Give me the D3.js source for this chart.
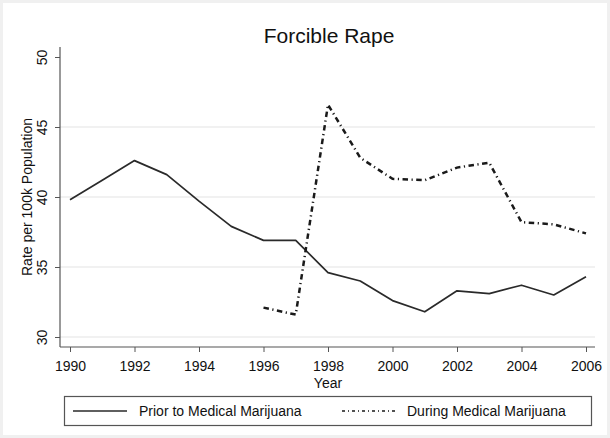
<!DOCTYPE html>
<html>
<head>
<meta charset="utf-8">
<script src="https://cdn.jsdelivr.net/npm/d3@7"></script>
<style>
  body { margin: 0; background: #fff; }
  svg { font-family: "Liberation Sans", Arial, Helvetica, sans-serif; }
</style>
</head>
<body>
<script>
// data
const years = [1990, 1991, 1992, 1993, 1994, 1995, 1996, 1997, 1998, 1999, 2000, 2001, 2002, 2003, 2004, 2005, 2006]
const prior = [39.8, 41.2, 42.6, 41.6, 39.7, 37.9, 36.9, 36.9, 34.6, 34.0, 32.6, 31.8, 33.3, 33.1, 33.7, 33.0, 34.3]
const duringYears = [1996, 1997, 1998, 1999, 2000, 2001, 2002, 2003, 2004, 2005, 2006]
const during = [32.1, 31.6, 46.6, 42.8, 41.3, 41.2, 42.1, 42.45, 38.2, 38.05, 37.4]
const xTicks = [1990, 1992, 1994, 1996, 1998, 2000, 2002, 2004, 2006]
const yTicks = [30, 35, 40, 45, 50]
const seriesNames = ["Prior to Medical Marijuana", "During Medical Marijuana"]

const width = 610, height = 438
const svg = d3.select("body").append("svg")
    .attr("width", width)
    .attr("height", height)

// faint outer frame
svg.append("rect")
    .attr("x", 1.5).attr("y", 1.5)
    .attr("width", width - 3).attr("height", height - 3)
    .attr("fill", "#fff")
    .attr("stroke", "#f0f0f0")
    .attr("stroke-width", 3)

const x = d3.scaleLinear().domain([1990, 2006]).range([70, 586])
const y = d3.scaleLinear().domain([30, 50]).range([337, 57])
const axisX = 60, axisY = 347, plotRight = 595, plotTop = 47

// gridlines (not at the top tick)
svg.append("g")
    .selectAll("line")
    .data(yTicks.filter(d => d < 50))
    .join("line")
    .attr("x1", axisX).attr("x2", plotRight)
    .attr("y1", d => y(d)).attr("y2", d => y(d))
    .attr("stroke", "#e4e4e4")
    .attr("stroke-width", 1.2)

// y axis
const yAxis = svg.append("g")
    .attr("transform", `translate(${axisX},0)`)
    .call(d3.axisLeft(y).tickValues(yTicks).tickSize(5).tickPadding(4))
yAxis.select(".domain").remove()
yAxis.selectAll(".tick line").attr("stroke", "#555")
yAxis.selectAll(".tick text")
    .attr("font-size", 14)
    .attr("fill", "#111")
    .attr("text-anchor", "middle")
    .attr("x", 0)
    .attr("dy", 0)
    .attr("transform", "translate(-13,0) rotate(-90)")
svg.append("line")
    .attr("x1", axisX).attr("x2", axisX)
    .attr("y1", plotTop).attr("y2", axisY)
    .attr("stroke", "#555").attr("stroke-width", 1.2)

// x axis
const xAxis = svg.append("g")
    .attr("transform", `translate(0,${axisY})`)
    .call(d3.axisBottom(x).tickValues(xTicks).tickFormat(d3.format("d")).tickSize(5).tickPadding(9))
xAxis.select(".domain").remove()
xAxis.selectAll(".tick line").attr("stroke", "#555")
xAxis.selectAll(".tick text").attr("font-size", 14).attr("fill", "#111")
svg.append("line")
    .attr("x1", axisX).attr("x2", plotRight)
    .attr("y1", axisY).attr("y2", axisY)
    .attr("stroke", "#555").attr("stroke-width", 1.2)

// axis titles
svg.append("text")
    .attr("transform", `translate(32,${y(40)}) rotate(-90)`)
    .attr("text-anchor", "middle")
    .attr("font-size", 14)
    .attr("fill", "#111")
    .text("Rate per 100k Population")
svg.append("text")
    .attr("x", x(1998)).attr("y", 388)
    .attr("text-anchor", "middle")
    .attr("font-size", 14)
    .attr("fill", "#111")
    .text("Year")

// title
svg.append("text")
    .attr("x", 329).attr("y", 43)
    .attr("text-anchor", "middle")
    .attr("font-size", 21)
    .attr("fill", "#111")
    .text("Forcible Rape")

// lines
const line = d3.line().x(d => x(d[0])).y(d => y(d[1]))
svg.append("path")
    .datum(years.map((yr, i) => [yr, prior[i]]))
    .attr("d", line)
    .attr("fill", "none")
    .attr("stroke", "#2a2a2a")
    .attr("stroke-width", 1.7)
    .attr("stroke-linejoin", "round")
svg.append("path")
    .datum(duringYears.map((yr, i) => [yr, during[i]]))
    .attr("d", line)
    .attr("fill", "none")
    .attr("stroke", "#1a1a1a")
    .attr("stroke-width", 2.5)
    .attr("stroke-dasharray", "5.5 3.5 1.2 3.5")

// legend
const legend = svg.append("g")
legend.append("rect")
    .attr("x", 64.5).attr("y", 396.5)
    .attr("width", 527).attr("height", 29)
    .attr("fill", "#fff")
    .attr("stroke", "#555")
    .attr("stroke-width", 1.2)
legend.append("line")
    .attr("x1", 73).attr("x2", 127).attr("y1", 411).attr("y2", 411)
    .attr("stroke", "#2a2a2a").attr("stroke-width", 1.4)
legend.append("line")
    .attr("x1", 342).attr("x2", 396).attr("y1", 411).attr("y2", 411)
    .attr("stroke", "#1a1a1a").attr("stroke-width", 1.6)
    .attr("stroke-dasharray", "3 3 1 3")
legend.selectAll("text.lg")
    .data(seriesNames)
    .join("text")
    .attr("class", "lg")
    .attr("x", (d, i) => i == 0 ? 139 : 407)
    .attr("y", 416)
    .attr("font-size", 14)
    .attr("fill", "#111")
    .text(d => d)
</script>
</body>
</html>
